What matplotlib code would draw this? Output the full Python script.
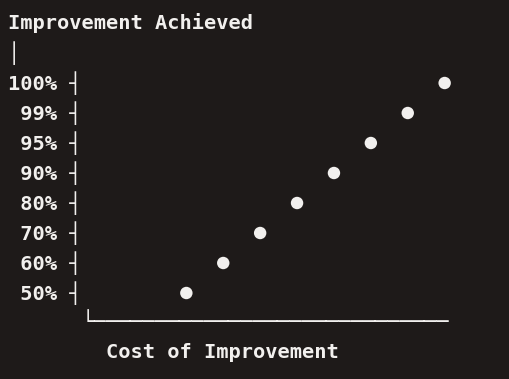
import matplotlib
matplotlib.use("Agg")
import matplotlib.pyplot as plt

# terminal-style scatter: improvement achieved vs cost of improvement
improvement_labels = ["50%", "60%", "70%", "80%", "90%", "95%", "99%", "100%"]
cost_steps = [1, 2, 3, 4, 5, 6, 7, 8]
achieved = ["50%", "60%", "70%", "80%", "90%", "95%", "99%", "100%"]

title = "Improvement Achieved"
xlabel = "Cost of Improvement"

BG = "#1e1a19"
FG = "#f2f0ee"
FONT = "DejaVu Sans Mono"

# character grid of the terminal
CELL_W = 12.3   # px
ROW_H = 30.0    # px
X0 = 8.0        # px, left edge of column 0
Y0 = 23.0       # px, centre of row 0
W, H = 510, 379

fig = plt.figure(figsize=(W / 100, H / 100), dpi=100, facecolor=BG)
ax = fig.add_axes([0, 0, 1, 1])
ax.set_facecolor(BG)
ax.set_xlim(-X0 / CELL_W, (W - X0) / CELL_W)
ax.set_ylim((H - Y0) / ROW_H, -Y0 / ROW_H)
ax.axis("off")

fs = 14.7
txt = dict(family=FONT, color=FG, fontsize=fs, fontweight="bold", va="center", ha="left")

ax.text(0, 0, title, **txt)
ax.text(0, 1, "\u2502", **txt)

n = len(improvement_labels)
first_row = 2
for j, lab in enumerate(improvement_labels):
    row = first_row + (n - 1 - j)
    ax.text(0, row, f"{lab:>4} \u2524", **txt)

axis_row = first_row + n
ax.text(6, axis_row, "\u2514" + "\u2500" * 29, **txt)
ax.text(8, axis_row + 1, xlabel, **txt)

# points: one per cost step, 3 columns apart starting at column 14
xs = [14 + 3 * i + 0.5 for i in range(len(cost_steps))]
ys = [first_row + (n - 1 - improvement_labels.index(a)) for a in achieved]
ax.scatter(xs, ys, s=80, color=FG, edgecolors="none", zorder=3)

fig.savefig("out.png", dpi=100, facecolor=BG)
